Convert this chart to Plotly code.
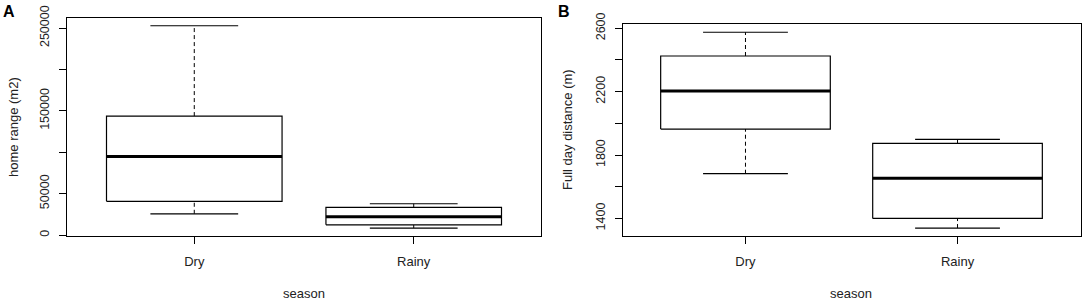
import plotly.graph_objects as go

categories = ["Dry", "Rainy"]
positions = [1, 2]

# Panel A: home range (m2)
hr_lower = [25700, 8450]
hr_q1 = [40700, 12400]
hr_median = [95000, 22100]
hr_q3 = [143700, 33400]
hr_upper = [252800, 37800]
hr_ticks = [0, 50000, 100000, 150000, 200000, 250000]
hr_ticktext = ["0", "50000", "", "150000", "", "250000"]

# Panel B: full day distance (m)
fd_lower = [1682, 1339]
fd_q1 = [1964, 1400]
fd_median = [2204, 1653]
fd_q3 = [2425, 1874]
fd_upper = [2575, 1899]
fd_ticks = [1400, 1600, 1800, 2000, 2200, 2400, 2600]
fd_ticktext = ["1400", "", "1800", "", "2200", "", "2600"]

FONT = "Liberation Sans, Arial, sans-serif"
TXT = "#222222"
W, H = 1084, 301

fig = go.Figure()


def add_boxes(xa, ya, lower, q1, med, q3, upper):
    hw = 0.4
    cw = 0.2
    for p, lo, a, m, b, up in zip(positions, lower, q1, med, q3, upper):
        # dashed whiskers
        fig.add_trace(go.Scatter(x=[p, p, None, p, p], y=[b, up, None, lo, a],
                                 mode="lines", xaxis=xa, yaxis=ya, showlegend=False,
                                 line=dict(color="black", width=1, dash="4px,3px"),
                                 hoverinfo="skip"))
        # caps
        fig.add_trace(go.Scatter(x=[p - cw, p + cw, None, p - cw, p + cw],
                                 y=[up, up, None, lo, lo],
                                 mode="lines", xaxis=xa, yaxis=ya, showlegend=False,
                                 line=dict(color="black", width=1.2), hoverinfo="skip"))
        # box
        fig.add_trace(go.Scatter(x=[p - hw, p + hw, p + hw, p - hw, p - hw],
                                 y=[a, a, b, b, a], mode="lines", fill="toself",
                                 fillcolor="white", xaxis=xa, yaxis=ya, showlegend=False,
                                 line=dict(color="black", width=1.2), hoverinfo="skip"))
        # median
        fig.add_trace(go.Scatter(x=[p - hw, p + hw], y=[m, m], mode="lines",
                                 xaxis=xa, yaxis=ya, showlegend=False,
                                 line=dict(color="black", width=3), hoverinfo="skip"))


add_boxes("x", "y", hr_lower, hr_q1, hr_median, hr_q3, hr_upper)
add_boxes("x2", "y2", fd_lower, fd_q1, fd_median, fd_q3, fd_upper)

axis_common = dict(showline=True, mirror=True, linecolor="black", linewidth=1,
                   ticks="outside", ticklen=7, tickcolor="black", showgrid=False,
                   zeroline=False, automargin=False)
xfont = dict(family=FONT, size=13, color=TXT)
yfont = dict(family=FONT, size=12.5, color=TXT)

xa_dom = [67 / W, 541 / W]
xb_dom = [622.5 / W, 1080.5 / W]
ya_dom = [1 - 236.3 / H, 1 - 17.7 / H]
yb_dom = [1 - 236.3 / H, 1 - 24 / H]

fig.update_layout(
    width=W, height=H, margin=dict(l=0, r=0, t=0, b=0, pad=0), autosize=False,
    paper_bgcolor="white", plot_bgcolor="white", showlegend=False,
    xaxis=dict(domain=xa_dom, range=[0.42, 2.58], tickvals=positions,
               ticktext=categories, anchor="y", tickfont=xfont,
               ticklabelstandoff=6, **axis_common),
    yaxis=dict(domain=ya_dom, range=[-1500, 262500], tickvals=hr_ticks,
               ticktext=hr_ticktext, tickangle=-90, anchor="x", tickfont=yfont,
               ticklabelstandoff=5, **axis_common),
    xaxis2=dict(domain=xb_dom, range=[0.42, 2.58], tickvals=positions,
                ticktext=categories, anchor="y2", tickfont=xfont,
                ticklabelstandoff=6, **axis_common),
    yaxis2=dict(domain=yb_dom, range=[1287, 2627], tickvals=fd_ticks,
                ticktext=fd_ticktext, tickangle=-90, anchor="x2", tickfont=yfont,
                ticklabelstandoff=5, **axis_common),
)

ann_font = dict(family=FONT, size=13, color=TXT)
annotations = [
    dict(text="season", x=(xa_dom[0] + xa_dom[1]) / 2, y=1 - 293 / H, xref="paper",
         yref="paper", showarrow=False, font=ann_font, xanchor="center", yanchor="middle"),
    dict(text="season", x=(xb_dom[0] + xb_dom[1]) / 2, y=1 - 293 / H, xref="paper",
         yref="paper", showarrow=False, font=ann_font, xanchor="center", yanchor="middle"),
    dict(text="home range (m2)", x=13 / W, y=1 - 127 / H, xref="paper", yref="paper",
         showarrow=False, font=ann_font, textangle=-90, xanchor="center", yanchor="middle"),
    dict(text="Full day distance (m)", x=568 / W, y=1 - 130 / H, xref="paper",
         yref="paper", showarrow=False, font=ann_font, textangle=-90,
         xanchor="center", yanchor="middle"),
    dict(text="<b>A</b>", x=9 / W, y=1 - 11 / H, xref="paper", yref="paper",
         showarrow=False, font=dict(family=FONT, size=16, color="black"),
         xanchor="center", yanchor="middle"),
    dict(text="<b>B</b>", x=564 / W, y=1 - 11 / H, xref="paper", yref="paper",
         showarrow=False, font=dict(family=FONT, size=16, color="black"),
         xanchor="center", yanchor="middle"),
]
fig.update_layout(annotations=annotations)

fig.write_html("out.html", config={"displayModeBar": False},
               post_script="document.body.style.margin='0';"
                           "document.body.style.overflow='hidden';")
